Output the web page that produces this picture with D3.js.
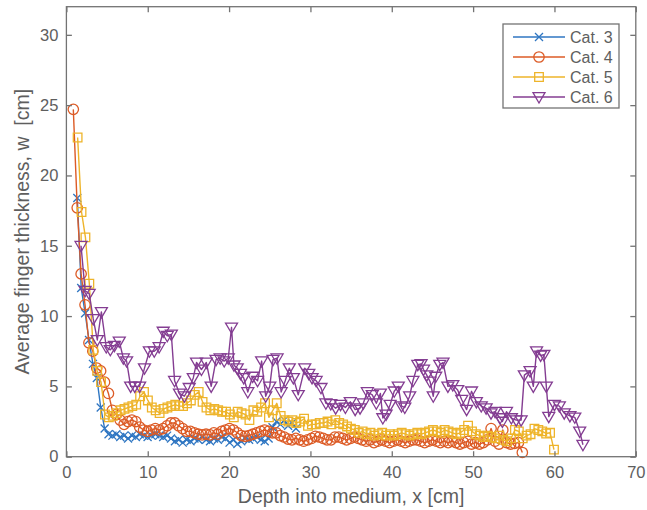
<!DOCTYPE html>
<html><head><meta charset="utf-8">
<script src="https://cdn.jsdelivr.net/npm/d3@7"></script>
<style>
body{margin:0;background:#fff}
svg{display:block}
text{font-family:Arial,"Liberation Sans",Helvetica,sans-serif}
</style>
</head><body>
<svg id="chart" width="647" height="510"></svg>
<script>
const xTicks = [0,10,20,30,40,50,60,70];
const yTicks = [0,5,10,15,20,25,30];
const xLabel = "Depth into medium, x [cm]";
const yLabel = "Average finger thickness, w  [cm]";
const seriesNames = ["Cat. 3","Cat. 4","Cat. 5","Cat. 6"];

const cat3X = [1.34,1.82,2.30,2.78,3.26,3.74,4.22,4.70,5.18,5.66,6.14,6.62,7.10,7.58,8.06,8.54,9.02,9.50,9.98,10.46,10.94,11.42,11.90,12.38,12.86,13.34,13.82,14.30,14.78,15.26,15.74,16.22,16.70,17.18,17.66,18.14,18.62,19.10,19.58,20.06,20.54,21.02,21.50,21.98,22.46,22.94,23.42,23.90,24.38,24.86,25.34,25.82,26.30,26.78,27.26,27.74,28.22];
const cat3Y = [18.4,12.0,10.2,8.3,6.6,5.6,3.5,2.0,1.6,1.5,1.6,1.4,1.5,1.3,1.5,1.4,1.6,1.5,1.4,1.5,1.6,1.5,1.4,1.5,1.3,1.1,1.2,1.0,1.2,1.1,1.3,1.2,1.4,1.2,1.1,1.3,1.2,1.4,1.3,1.0,1.2,0.9,1.1,1.3,1.2,1.3,1.4,1.2,1.1,1.3,2.1,2.5,2.3,2.6,2.2,2.4,2.0];

const cat4X = [0.85,1.33,1.81,2.29,2.77,3.25,3.73,4.21,4.69,5.17,5.65,6.13,6.61,7.09,7.57,8.05,8.53,9.01,9.49,9.97,10.45,10.93,11.41,11.89,12.37,12.85,13.33,13.81,14.29,14.77,15.25,15.73,16.21,16.69,17.17,17.65,18.13,18.61,19.09,19.57,20.05,20.53,21.01,21.49,21.97,22.45,22.93,23.41,23.89,24.37,24.85,25.33,25.81,26.29,26.77,27.25,27.73,28.21,28.69,29.17,29.65,30.13,30.61,31.09,31.57,32.05,32.53,33.01,33.49,33.97,34.45,34.93,35.41,35.89,36.37,36.85,37.33,37.81,38.29,38.77,39.25,39.73,40.21,40.69,41.17,41.65,42.13,42.61,43.09,43.57,44.05,44.53,45.01,45.49,45.97,46.45,46.93,47.41,47.89,48.37,48.85,49.33,49.81,50.29,50.77,51.25,51.73,52.21,52.69,53.17,53.65,54.13,54.61,55.09,55.57,56.05];
const cat4Y = [24.7,17.7,13.0,10.8,8.1,7.5,6.3,6.1,5.3,4.5,3.3,3.0,2.6,2.3,2.5,2.6,2.5,2.1,1.9,1.8,1.9,2.0,1.9,2.0,2.2,2.4,2.4,2.2,2.0,1.8,1.8,1.7,1.6,1.55,1.6,1.55,1.7,1.6,1.8,1.9,2.0,1.9,1.7,1.5,1.45,1.5,1.6,1.7,1.8,1.9,1.8,1.7,1.7,1.5,1.4,1.25,1.2,1.3,1.2,1.1,1.2,1.3,1.45,1.4,1.3,1.2,1.2,1.4,1.4,1.3,1.2,1.3,1.4,1.3,1.2,1.1,1.2,1.0,1.1,1.2,1.1,1.0,1.1,1.2,1.1,1.0,1.1,1.2,1.2,1.1,1.0,1.1,1.2,1.1,1.0,1.1,1.0,1.1,1.0,0.9,1.0,1.1,0.9,1.0,0.9,1.0,1.2,2.0,1.1,0.9,1.9,1.0,0.9,0.95,1.0,0.3];

const cat5X = [1.38,1.86,2.34,2.82,3.30,3.78,4.26,4.74,5.22,5.70,6.18,6.66,7.14,7.62,8.10,8.58,9.06,9.54,10.02,10.50,10.98,11.46,11.94,12.42,12.90,13.38,13.86,14.34,14.82,15.30,15.78,16.26,16.74,17.22,17.70,18.18,18.66,19.14,19.62,20.10,20.58,21.06,21.54,22.02,22.50,22.98,23.46,23.94,24.42,24.90,25.38,25.86,26.34,26.82,27.30,27.78,28.26,28.74,29.22,29.70,30.18,30.66,31.14,31.62,32.10,32.58,33.06,33.54,34.02,34.50,34.98,35.46,35.94,36.42,36.90,37.38,37.86,38.34,38.82,39.30,39.78,40.26,40.74,41.22,41.70,42.18,42.66,43.14,43.62,44.10,44.58,45.06,45.54,46.02,46.50,46.98,47.46,47.94,48.42,48.90,49.38,49.86,50.34,50.82,51.30,51.78,52.26,52.74,53.22,53.70,54.18,54.66,55.14,55.62,56.10,56.58,57.06,57.54,58.02,58.50,58.98,59.46,59.94];
const cat5Y = [22.7,17.4,15.6,12.3,7.6,6.1,5.3,3.0,2.8,2.9,3.1,3.3,3.4,3.5,3.6,3.7,4.3,4.6,4.0,3.5,3.3,3.1,3.4,3.5,3.6,3.7,3.6,3.6,3.8,4.0,4.4,4.6,3.9,3.5,3.3,3.4,3.3,3.2,3.2,3.0,2.8,3.2,3.1,3.0,2.6,3.3,3.2,3.5,3.8,2.8,3.3,3.8,2.9,2.6,2.5,2.6,2.4,2.5,2.7,2.2,2.3,2.3,2.4,2.4,2.5,2.3,2.6,2.4,2.3,2.15,2.0,1.9,1.7,1.8,1.6,1.7,1.5,1.6,1.7,1.5,1.6,1.5,1.6,1.7,1.6,1.5,1.6,1.7,1.6,1.7,1.8,1.9,1.8,1.7,1.9,1.8,1.7,1.6,1.7,1.9,2.2,1.8,1.6,1.5,1.4,1.5,1.4,1.3,1.5,1.2,1.1,1.3,1.9,1.8,1.3,1.5,1.6,2.0,1.9,1.8,1.65,1.7,0.5];

const cat6X = [1.8,2.3,2.8,3.3,3.8,4.3,4.9,5.4,5.9,6.5,7.0,7.4,7.9,8.4,9.0,9.6,10.2,10.8,11.4,11.9,12.4,12.9,13.3,13.9,14.5,15.1,15.6,16.0,16.6,17.2,17.8,18.4,18.9,19.4,19.9,20.3,20.6,21.0,21.4,21.8,22.3,22.9,23.5,24.0,24.5,25.0,25.4,25.9,26.4,26.9,27.4,27.9,28.5,29.3,29.8,30.2,30.7,31.3,31.9,32.5,33.1,33.7,34.3,34.9,35.5,36.1,36.5,37.0,37.6,38.1,38.6,38.9,39.3,39.8,40.3,40.8,41.2,41.6,42.2,42.6,43.2,43.6,43.9,44.3,44.7,45.1,45.4,45.9,46.3,46.9,47.5,48.1,48.6,49.2,49.8,50.4,51.0,51.6,52.2,52.7,53.3,53.6,54.1,54.7,55.3,55.9,56.3,57.0,57.4,57.8,58.3,58.7,59.0,59.3,60.0,60.6,61.2,61.9,62.5,63.1,63.5];
const cat6Y = [15.0,11.8,11.6,9.8,8.3,10.3,7.8,7.6,7.9,8.2,7.0,6.8,5.0,5.0,5.0,6.3,7.5,7.5,7.8,8.9,8.6,8.7,5.4,4.5,4.3,4.9,5.6,6.7,6.2,6.7,5.0,6.9,7.0,6.8,7.0,9.2,6.5,6.3,5.9,5.6,4.6,5.7,5.4,6.8,4.3,5.0,6.9,7.0,4.6,5.4,6.3,5.6,4.4,6.3,5.9,5.6,5.4,4.9,3.8,3.75,3.45,3.7,3.5,3.9,3.35,3.45,3.8,4.6,4.4,3.8,4.5,2.75,3.0,3.7,4.65,5.0,3.6,3.5,4.3,5.4,6.55,6.6,6.2,5.8,5.35,4.3,5.7,6.55,6.7,5.0,5.1,4.75,4.05,3.35,4.65,3.9,3.6,3.45,3.1,3.2,2.75,2.5,3.2,2.75,2.6,2.6,5.8,6.1,5.0,7.5,7.2,7.25,5.0,2.85,3.7,3.6,3.1,2.9,2.8,1.8,0.85];

const colors = ["#2f76c2","#dc5b26","#eeb42a","#843d92"];
const markers = ["cross","circle","square","triangle"];
const series = [
  {name: seriesNames[0], x: cat3X, y: cat3Y},
  {name: seriesNames[1], x: cat4X, y: cat4Y},
  {name: seriesNames[2], x: cat5X, y: cat5Y},
  {name: seriesNames[3], x: cat6X, y: cat6Y}
].map((s,i)=>({...s, color: colors[i], marker: markers[i], pts: s.x.map((v,j)=>[v, s.y[j]])}));

const svg = d3.select("#chart");
const L = 66.4, R = 635.8, T = 6.7, B = 456.7;
const x = d3.scaleLinear().domain([0,70]).range([L,R]);
const y = d3.scaleLinear().domain([0,32]).range([B,T]);
const axisColor = "#737373", textColor = "#5e5e5e";

function markerPath(type){
  if(type==="circle") return d3.symbol(d3.symbolCircle, Math.PI*5.2*5.2)();
  if(type==="square") return "M-4.3,-4.3H4.3V4.3H-4.3Z";
  if(type==="triangle") return "M-6,-4.3H6L0,6Z";
  return "M-4,-4L4,4M-4,4L4,-4";
}

const plot = svg.append("g");
const line = d3.line().x(d=>x(d[0])).y(d=>y(d[1]));
series.forEach(s=>{
  const g = plot.append("g");
  g.append("path").attr("d", line(s.pts)).attr("fill","none")
    .attr("stroke", s.color).attr("stroke-width",1.4).attr("stroke-linejoin","round");
  g.selectAll("path.m").data(s.pts).join("path").attr("class","m")
    .attr("transform", d=>`translate(${x(d[0])},${y(d[1])})`)
    .attr("d", markerPath(s.marker)).attr("fill","none")
    .attr("stroke", s.color).attr("stroke-width",1.3);
});

svg.append("rect").attr("x",L).attr("y",T).attr("width",R-L).attr("height",B-T)
  .attr("fill","none").attr("stroke",axisColor).attr("stroke-width",1.3);

const tl = 5.5;
const xAxisB = d3.axisBottom(x).tickValues(xTicks).tickSize(-tl).tickPadding(10).tickFormat(d3.format("d"));
const xAxisT = d3.axisTop(x).tickValues(xTicks).tickSize(-tl).tickFormat("");
const yAxisL = d3.axisLeft(y).tickValues(yTicks).tickSize(-tl).tickPadding(8).tickFormat(d3.format("d"));
const yAxisR = d3.axisRight(y).tickValues(yTicks).tickSize(-tl).tickFormat("");

function styleAxis(g){
  g.select(".domain").remove();
  g.selectAll(".tick line").attr("stroke",axisColor).attr("stroke-width",1.3);
  g.selectAll("text").attr("fill",textColor).attr("font-size",16.5).attr("font-family","Arial, 'Liberation Sans', sans-serif");
}
svg.append("g").attr("transform",`translate(0,${B})`).call(xAxisB).call(styleAxis);
svg.append("g").attr("transform",`translate(0,${T})`).call(xAxisT).call(styleAxis);
svg.append("g").attr("transform",`translate(${L},0)`).call(yAxisL).call(styleAxis);
svg.append("g").attr("transform",`translate(${R},0)`).call(yAxisR).call(styleAxis);

svg.append("text").attr("x",(L+R)/2).attr("y",503).attr("text-anchor","middle")
  .attr("fill",textColor).attr("font-size",19.5).text(xLabel);
svg.append("text").attr("transform",`translate(29,${(T+B)/2}) rotate(-90)`).attr("text-anchor","middle")
  .attr("fill",textColor).attr("font-size",19.5).style("white-space","pre").text(yLabel);

const lg = svg.append("g");
lg.append("rect").attr("x",503).attr("y",24).attr("width",116).attr("height",84)
  .attr("fill","#fff").attr("stroke",axisColor).attr("stroke-width",1.3);
series.forEach((s,i)=>{
  const yy = 37 + i*20;
  lg.append("line").attr("x1",513).attr("x2",565).attr("y1",yy).attr("y2",yy)
    .attr("stroke",s.color).attr("stroke-width",1.4);
  lg.append("path").attr("transform",`translate(539,${yy})`).attr("d",markerPath(s.marker))
    .attr("fill","none").attr("stroke",s.color).attr("stroke-width",1.3);
  lg.append("text").attr("x",570).attr("y",yy+6).attr("fill",textColor).attr("font-size",16)
    .text(s.name);
});
</script>
</body></html>
